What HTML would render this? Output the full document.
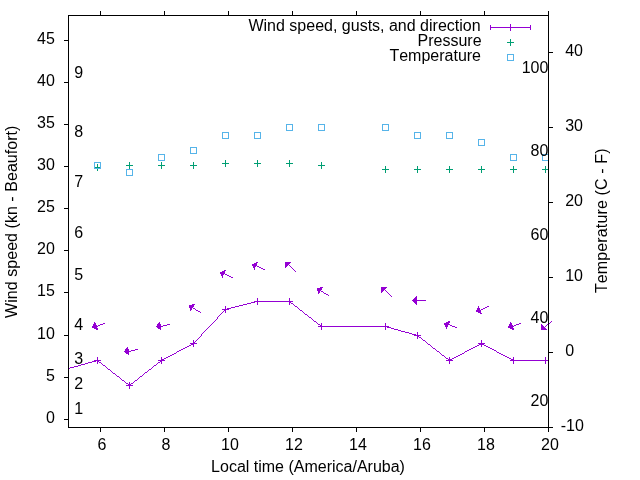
<!DOCTYPE html>
<html><head><meta charset="utf-8"><title>wind</title><style>
html,body{margin:0;padding:0;background:#fff;}
body{width:640px;height:480px;overflow:hidden;position:relative;}
svg{position:absolute;left:0;top:0;display:block;will-change:transform;}
text{font-family:"Liberation Sans",sans-serif;font-size:16px;fill:#000;font-kerning:none;}
</style></head><body>
<svg width="640" height="480" viewBox="0 0 640 480">
<g shape-rendering="crispEdges">
<path fill="#9400d3" d="M510 24h1v1h-1zM490 25h1v1h-1zM510 25h1v1h-1zM530 25h1v1h-1zM490 26h1v1h-1zM510 26h1v1h-1zM530 26h1v1h-1zM490 27h41v1h-41zM490 28h1v1h-1zM510 28h1v1h-1zM530 28h1v1h-1zM490 29h1v1h-1zM510 29h1v1h-1zM530 29h1v1h-1zM510 30h1v1h-1zM256 262h2v1h-2zM285 262h6v1h-6zM254 263h3v1h-3zM285 263h5v1h-5zM252 264h5v1h-5zM285 264h4v1h-4zM252 265h5v1h-5zM285 265h3v1h-3zM289 265h1v1h-1zM253 266h3v1h-3zM257 266h2v1h-2zM285 266h2v1h-2zM290 266h1v1h-1zM253 267h2v1h-2zM259 267h2v1h-2zM285 267h1v1h-1zM291 267h1v1h-1zM254 268h1v1h-1zM261 268h2v1h-2zM292 268h1v1h-1zM254 269h1v1h-1zM263 269h2v1h-2zM293 269h1v1h-1zM224 270h2v1h-2zM294 270h1v1h-1zM222 271h3v1h-3zM295 271h1v1h-1zM220 272h5v1h-5zM220 273h5v1h-5zM221 274h3v1h-3zM225 274h2v1h-2zM221 275h2v1h-2zM227 275h2v1h-2zM222 276h1v1h-1zM229 276h2v1h-2zM222 277h1v1h-1zM231 277h2v1h-2zM320 287h3v1h-3zM381 287h6v1h-6zM317 288h5v1h-5zM381 288h5v1h-5zM317 289h5v1h-5zM381 289h4v1h-4zM317 290h4v1h-4zM381 290h3v1h-3zM385 290h1v1h-1zM318 291h2v1h-2zM321 291h2v1h-2zM381 291h2v1h-2zM386 291h1v1h-1zM318 292h2v1h-2zM323 292h1v1h-1zM381 292h1v1h-1zM387 292h1v1h-1zM318 293h1v1h-1zM324 293h2v1h-2zM388 293h1v1h-1zM326 294h2v1h-2zM389 294h1v1h-1zM328 295h1v1h-1zM390 295h1v1h-1zM391 296h1v1h-1zM416 296h1v1h-1zM415 297h2v1h-2zM257 298h1v1h-1zM289 298h1v1h-1zM414 298h3v1h-3zM257 299h1v1h-1zM289 299h1v1h-1zM413 299h4v1h-4zM257 300h1v1h-1zM289 300h1v1h-1zM412 300h14v1h-14zM254 301h39v1h-39zM413 301h4v1h-4zM251 302h4v1h-4zM257 302h1v1h-1zM289 302h2v1h-2zM414 302h3v1h-3zM247 303h4v1h-4zM257 303h1v1h-1zM289 303h1v1h-1zM291 303h2v1h-2zM415 303h2v1h-2zM192 304h3v1h-3zM243 304h4v1h-4zM257 304h1v1h-1zM289 304h1v1h-1zM293 304h1v1h-1zM416 304h1v1h-1zM189 305h5v1h-5zM239 305h4v1h-4zM294 305h1v1h-1zM189 306h5v1h-5zM225 306h1v1h-1zM235 306h4v1h-4zM295 306h2v1h-2zM478 306h1v1h-1zM487 306h2v1h-2zM189 307h4v1h-4zM225 307h1v1h-1zM231 307h4v1h-4zM297 307h1v1h-1zM478 307h1v1h-1zM485 307h2v1h-2zM190 308h2v1h-2zM193 308h2v1h-2zM225 308h1v1h-1zM227 308h4v1h-4zM298 308h1v1h-1zM477 308h3v1h-3zM483 308h2v1h-2zM190 309h2v1h-2zM195 309h1v1h-1zM222 309h7v1h-7zM299 309h1v1h-1zM477 309h3v1h-3zM481 309h2v1h-2zM190 310h1v1h-1zM196 310h2v1h-2zM224 310h2v1h-2zM300 310h2v1h-2zM476 310h5v1h-5zM198 311h2v1h-2zM223 311h1v1h-1zM225 311h1v1h-1zM302 311h1v1h-1zM476 311h5v1h-5zM200 312h1v1h-1zM222 312h1v1h-1zM225 312h1v1h-1zM303 312h1v1h-1zM478 312h3v1h-3zM221 313h1v1h-1zM304 313h1v1h-1zM480 313h2v1h-2zM220 314h1v1h-1zM305 314h2v1h-2zM219 315h1v1h-1zM307 315h1v1h-1zM218 316h1v1h-1zM308 316h1v1h-1zM217 317h1v1h-1zM309 317h2v1h-2zM217 318h1v1h-1zM311 318h1v1h-1zM216 319h1v1h-1zM312 319h1v1h-1zM215 320h1v1h-1zM313 320h1v1h-1zM214 321h1v1h-1zM314 321h2v1h-2zM448 321h2v1h-2zM551 321h1v1h-1zM94 322h1v1h-1zM159 322h1v1h-1zM213 322h1v1h-1zM316 322h1v1h-1zM446 322h4v1h-4zM510 322h1v1h-1zM550 322h1v1h-1zM94 323h2v1h-2zM103 323h2v1h-2zM158 323h2v1h-2zM212 323h1v1h-1zM317 323h1v1h-1zM321 323h1v1h-1zM385 323h1v1h-1zM444 323h5v1h-5zM510 323h2v1h-2zM519 323h2v1h-2zM549 323h1v1h-1zM93 324h3v1h-3zM100 324h3v1h-3zM157 324h4v1h-4zM167 324h3v1h-3zM211 324h1v1h-1zM318 324h2v1h-2zM321 324h1v1h-1zM385 324h1v1h-1zM444 324h6v1h-6zM509 324h3v1h-3zM516 324h3v1h-3zM541 324h1v1h-1zM547 324h2v1h-2zM93 325h4v1h-4zM98 325h2v1h-2zM157 325h4v1h-4zM163 325h4v1h-4zM210 325h1v1h-1zM320 325h2v1h-2zM385 325h1v1h-1zM445 325h3v1h-3zM450 325h2v1h-2zM509 325h4v1h-4zM514 325h2v1h-2zM541 325h2v1h-2zM546 325h1v1h-1zM92 326h6v1h-6zM156 326h7v1h-7zM209 326h1v1h-1zM318 326h71v1h-71zM445 326h3v1h-3zM452 326h3v1h-3zM508 326h6v1h-6zM541 326h3v1h-3zM545 326h1v1h-1zM92 327h5v1h-5zM157 327h4v1h-4zM208 327h1v1h-1zM321 327h1v1h-1zM385 327h1v1h-1zM387 327h4v1h-4zM446 327h1v1h-1zM455 327h2v1h-2zM508 327h5v1h-5zM541 327h4v1h-4zM94 328h4v1h-4zM158 328h3v1h-3zM207 328h1v1h-1zM321 328h1v1h-1zM385 328h1v1h-1zM391 328h3v1h-3zM446 328h1v1h-1zM510 328h4v1h-4zM541 328h5v1h-5zM96 329h2v1h-2zM160 329h1v1h-1zM206 329h1v1h-1zM321 329h1v1h-1zM385 329h1v1h-1zM394 329h4v1h-4zM512 329h2v1h-2zM541 329h6v1h-6zM205 330h1v1h-1zM398 330h3v1h-3zM204 331h1v1h-1zM401 331h4v1h-4zM203 332h1v1h-1zM405 332h4v1h-4zM417 332h1v1h-1zM202 333h1v1h-1zM409 333h3v1h-3zM417 333h1v1h-1zM201 334h1v1h-1zM412 334h4v1h-4zM417 334h1v1h-1zM201 335h1v1h-1zM414 335h7v1h-7zM200 336h1v1h-1zM417 336h2v1h-2zM199 337h1v1h-1zM417 337h1v1h-1zM419 337h2v1h-2zM198 338h1v1h-1zM417 338h1v1h-1zM421 338h1v1h-1zM197 339h1v1h-1zM422 339h1v1h-1zM193 340h1v1h-1zM196 340h1v1h-1zM423 340h2v1h-2zM481 340h1v1h-1zM193 341h1v1h-1zM195 341h1v1h-1zM425 341h1v1h-1zM481 341h1v1h-1zM193 342h2v1h-2zM426 342h1v1h-1zM481 342h1v1h-1zM190 343h7v1h-7zM427 343h1v1h-1zM478 343h7v1h-7zM191 344h3v1h-3zM428 344h2v1h-2zM479 344h5v1h-5zM189 345h2v1h-2zM193 345h1v1h-1zM430 345h1v1h-1zM477 345h2v1h-2zM481 345h1v1h-1zM484 345h2v1h-2zM187 346h2v1h-2zM193 346h1v1h-1zM431 346h1v1h-1zM475 346h2v1h-2zM481 346h1v1h-1zM486 346h2v1h-2zM127 347h1v1h-1zM185 347h2v1h-2zM432 347h1v1h-1zM473 347h2v1h-2zM488 347h2v1h-2zM126 348h2v1h-2zM183 348h2v1h-2zM433 348h2v1h-2zM471 348h2v1h-2zM490 348h2v1h-2zM125 349h4v1h-4zM135 349h3v1h-3zM181 349h2v1h-2zM435 349h1v1h-1zM469 349h2v1h-2zM492 349h2v1h-2zM125 350h4v1h-4zM131 350h4v1h-4zM179 350h2v1h-2zM436 350h1v1h-1zM467 350h2v1h-2zM494 350h2v1h-2zM124 351h7v1h-7zM177 351h2v1h-2zM437 351h2v1h-2zM465 351h2v1h-2zM496 351h1v1h-1zM125 352h4v1h-4zM176 352h1v1h-1zM439 352h1v1h-1zM464 352h1v1h-1zM497 352h2v1h-2zM126 353h3v1h-3zM174 353h2v1h-2zM440 353h1v1h-1zM462 353h2v1h-2zM499 353h2v1h-2zM128 354h1v1h-1zM172 354h2v1h-2zM441 354h1v1h-1zM460 354h2v1h-2zM501 354h2v1h-2zM170 355h2v1h-2zM442 355h2v1h-2zM458 355h2v1h-2zM503 355h2v1h-2zM168 356h2v1h-2zM444 356h1v1h-1zM456 356h2v1h-2zM505 356h2v1h-2zM97 357h1v1h-1zM161 357h1v1h-1zM166 357h2v1h-2zM445 357h1v1h-1zM449 357h1v1h-1zM454 357h2v1h-2zM507 357h2v1h-2zM513 357h1v1h-1zM545 357h1v1h-1zM97 358h1v1h-1zM161 358h1v1h-1zM164 358h2v1h-2zM446 358h2v1h-2zM449 358h1v1h-1zM452 358h2v1h-2zM509 358h2v1h-2zM513 358h1v1h-1zM545 358h1v1h-1zM97 359h1v1h-1zM161 359h3v1h-3zM448 359h4v1h-4zM511 359h3v1h-3zM545 359h1v1h-1zM94 360h7v1h-7zM158 360h7v1h-7zM446 360h7v1h-7zM510 360h39v1h-39zM92 361h4v1h-4zM97 361h2v1h-2zM160 361h2v1h-2zM449 361h1v1h-1zM513 361h1v1h-1zM545 361h1v1h-1zM88 362h4v1h-4zM97 362h1v1h-1zM99 362h2v1h-2zM158 362h2v1h-2zM161 362h1v1h-1zM449 362h1v1h-1zM513 362h1v1h-1zM545 362h1v1h-1zM85 363h3v1h-3zM97 363h1v1h-1zM101 363h1v1h-1zM157 363h1v1h-1zM161 363h1v1h-1zM449 363h1v1h-1zM513 363h1v1h-1zM545 363h1v1h-1zM81 364h4v1h-4zM102 364h1v1h-1zM156 364h1v1h-1zM78 365h3v1h-3zM103 365h2v1h-2zM154 365h2v1h-2zM74 366h4v1h-4zM105 366h1v1h-1zM153 366h1v1h-1zM70 367h4v1h-4zM106 367h1v1h-1zM152 367h1v1h-1zM68 368h2v1h-2zM107 368h1v1h-1zM151 368h1v1h-1zM108 369h2v1h-2zM149 369h2v1h-2zM110 370h1v1h-1zM148 370h1v1h-1zM111 371h1v1h-1zM147 371h1v1h-1zM112 372h1v1h-1zM145 372h2v1h-2zM113 373h2v1h-2zM144 373h1v1h-1zM115 374h1v1h-1zM143 374h1v1h-1zM116 375h1v1h-1zM142 375h1v1h-1zM117 376h2v1h-2zM140 376h2v1h-2zM119 377h1v1h-1zM139 377h1v1h-1zM120 378h1v1h-1zM138 378h1v1h-1zM121 379h1v1h-1zM137 379h1v1h-1zM122 380h2v1h-2zM135 380h2v1h-2zM124 381h1v1h-1zM134 381h1v1h-1zM125 382h1v1h-1zM129 382h1v1h-1zM133 382h1v1h-1zM126 383h2v1h-2zM129 383h1v1h-1zM131 383h2v1h-2zM128 384h3v1h-3zM126 385h7v1h-7zM129 386h1v1h-1zM129 387h1v1h-1zM129 388h1v1h-1z"/>
<path fill="#009e73" d="M510 39h1v1h-1zM510 40h1v1h-1zM510 41h1v1h-1zM507 42h7v1h-7zM510 43h1v1h-1zM510 44h1v1h-1zM510 45h1v1h-1zM225 160h1v1h-1zM257 160h1v1h-1zM289 160h1v1h-1zM225 161h1v1h-1zM257 161h1v1h-1zM289 161h1v1h-1zM129 162h1v1h-1zM161 162h1v1h-1zM193 162h1v1h-1zM225 162h1v1h-1zM257 162h1v1h-1zM289 162h1v1h-1zM321 162h1v1h-1zM129 163h1v1h-1zM161 163h1v1h-1zM193 163h1v1h-1zM222 163h7v1h-7zM254 163h7v1h-7zM286 163h7v1h-7zM321 163h1v1h-1zM97 164h1v1h-1zM129 164h1v1h-1zM161 164h1v1h-1zM193 164h1v1h-1zM225 164h1v1h-1zM257 164h1v1h-1zM289 164h1v1h-1zM321 164h1v1h-1zM97 165h1v1h-1zM126 165h7v1h-7zM158 165h7v1h-7zM190 165h7v1h-7zM225 165h1v1h-1zM257 165h1v1h-1zM289 165h1v1h-1zM318 165h7v1h-7zM97 166h1v1h-1zM129 166h1v1h-1zM161 166h1v1h-1zM193 166h1v1h-1zM225 166h1v1h-1zM257 166h1v1h-1zM289 166h1v1h-1zM321 166h1v1h-1zM385 166h1v1h-1zM417 166h1v1h-1zM449 166h1v1h-1zM481 166h1v1h-1zM513 166h1v1h-1zM545 166h1v1h-1zM94 167h7v1h-7zM129 167h1v1h-1zM161 167h1v1h-1zM193 167h1v1h-1zM321 167h1v1h-1zM385 167h1v1h-1zM417 167h1v1h-1zM449 167h1v1h-1zM481 167h1v1h-1zM513 167h1v1h-1zM545 167h1v1h-1zM97 168h1v1h-1zM129 168h1v1h-1zM161 168h1v1h-1zM193 168h1v1h-1zM321 168h1v1h-1zM385 168h1v1h-1zM417 168h1v1h-1zM449 168h1v1h-1zM481 168h1v1h-1zM513 168h1v1h-1zM545 168h1v1h-1zM97 169h1v1h-1zM382 169h7v1h-7zM414 169h7v1h-7zM446 169h7v1h-7zM478 169h7v1h-7zM510 169h7v1h-7zM542 169h7v1h-7zM97 170h1v1h-1zM385 170h1v1h-1zM417 170h1v1h-1zM449 170h1v1h-1zM481 170h1v1h-1zM513 170h1v1h-1zM545 170h1v1h-1zM385 171h1v1h-1zM417 171h1v1h-1zM449 171h1v1h-1zM481 171h1v1h-1zM513 171h1v1h-1zM545 171h1v1h-1zM385 172h1v1h-1zM417 172h1v1h-1zM449 172h1v1h-1zM481 172h1v1h-1zM513 172h1v1h-1zM545 172h1v1h-1z"/>
<path fill="#56b4e9" d="M507 54h7v1h-7zM507 55h1v1h-1zM513 55h1v1h-1zM507 56h1v1h-1zM513 56h1v1h-1zM507 57h1v1h-1zM513 57h1v1h-1zM507 58h1v1h-1zM513 58h1v1h-1zM507 59h1v1h-1zM513 59h1v1h-1zM507 60h7v1h-7zM286 124h7v1h-7zM318 124h7v1h-7zM382 124h7v1h-7zM286 125h1v1h-1zM292 125h1v1h-1zM318 125h1v1h-1zM324 125h1v1h-1zM382 125h1v1h-1zM388 125h1v1h-1zM286 126h1v1h-1zM292 126h1v1h-1zM318 126h1v1h-1zM324 126h1v1h-1zM382 126h1v1h-1zM388 126h1v1h-1zM286 127h1v1h-1zM292 127h1v1h-1zM318 127h1v1h-1zM324 127h1v1h-1zM382 127h1v1h-1zM388 127h1v1h-1zM286 128h1v1h-1zM292 128h1v1h-1zM318 128h1v1h-1zM324 128h1v1h-1zM382 128h1v1h-1zM388 128h1v1h-1zM286 129h1v1h-1zM292 129h1v1h-1zM318 129h1v1h-1zM324 129h1v1h-1zM382 129h1v1h-1zM388 129h1v1h-1zM286 130h7v1h-7zM318 130h7v1h-7zM382 130h7v1h-7zM222 132h7v1h-7zM254 132h7v1h-7zM414 132h7v1h-7zM446 132h7v1h-7zM222 133h1v1h-1zM228 133h1v1h-1zM254 133h1v1h-1zM260 133h1v1h-1zM414 133h1v1h-1zM420 133h1v1h-1zM446 133h1v1h-1zM452 133h1v1h-1zM222 134h1v1h-1zM228 134h1v1h-1zM254 134h1v1h-1zM260 134h1v1h-1zM414 134h1v1h-1zM420 134h1v1h-1zM446 134h1v1h-1zM452 134h1v1h-1zM222 135h1v1h-1zM228 135h1v1h-1zM254 135h1v1h-1zM260 135h1v1h-1zM414 135h1v1h-1zM420 135h1v1h-1zM446 135h1v1h-1zM452 135h1v1h-1zM222 136h1v1h-1zM228 136h1v1h-1zM254 136h1v1h-1zM260 136h1v1h-1zM414 136h1v1h-1zM420 136h1v1h-1zM446 136h1v1h-1zM452 136h1v1h-1zM222 137h1v1h-1zM228 137h1v1h-1zM254 137h1v1h-1zM260 137h1v1h-1zM414 137h1v1h-1zM420 137h1v1h-1zM446 137h1v1h-1zM452 137h1v1h-1zM222 138h7v1h-7zM254 138h7v1h-7zM414 138h7v1h-7zM446 138h7v1h-7zM478 139h7v1h-7zM478 140h1v1h-1zM484 140h1v1h-1zM478 141h1v1h-1zM484 141h1v1h-1zM478 142h1v1h-1zM484 142h1v1h-1zM478 143h1v1h-1zM484 143h1v1h-1zM478 144h1v1h-1zM484 144h1v1h-1zM478 145h7v1h-7zM190 147h7v1h-7zM190 148h1v1h-1zM196 148h1v1h-1zM190 149h1v1h-1zM196 149h1v1h-1zM190 150h1v1h-1zM196 150h1v1h-1zM190 151h1v1h-1zM196 151h1v1h-1zM190 152h1v1h-1zM196 152h1v1h-1zM190 153h7v1h-7zM158 154h7v1h-7zM510 154h7v1h-7zM542 154h7v1h-7zM158 155h1v1h-1zM164 155h1v1h-1zM510 155h1v1h-1zM516 155h1v1h-1zM542 155h1v1h-1zM548 155h1v1h-1zM158 156h1v1h-1zM164 156h1v1h-1zM510 156h1v1h-1zM516 156h1v1h-1zM542 156h1v1h-1zM548 156h1v1h-1zM158 157h1v1h-1zM164 157h1v1h-1zM510 157h1v1h-1zM516 157h1v1h-1zM542 157h1v1h-1zM548 157h1v1h-1zM158 158h1v1h-1zM164 158h1v1h-1zM510 158h1v1h-1zM516 158h1v1h-1zM542 158h1v1h-1zM548 158h1v1h-1zM158 159h1v1h-1zM164 159h1v1h-1zM510 159h1v1h-1zM516 159h1v1h-1zM542 159h1v1h-1zM548 159h1v1h-1zM158 160h7v1h-7zM510 160h7v1h-7zM542 160h7v1h-7zM94 162h7v1h-7zM94 163h1v1h-1zM100 163h1v1h-1zM94 164h1v1h-1zM100 164h1v1h-1zM94 165h1v1h-1zM100 165h1v1h-1zM94 166h1v1h-1zM100 166h1v1h-1zM94 167h1v1h-1zM100 167h1v1h-1zM94 168h7v1h-7zM126 169h7v1h-7zM126 170h1v1h-1zM132 170h1v1h-1zM126 171h1v1h-1zM132 171h1v1h-1zM126 172h1v1h-1zM132 172h1v1h-1zM126 173h1v1h-1zM132 173h1v1h-1zM126 174h1v1h-1zM132 174h1v1h-1zM126 175h7v1h-7z"/>
<path fill="#000000" d="M100 11h1v1h-1zM164 11h1v1h-1zM228 11h1v1h-1zM292 11h1v1h-1zM356 11h1v1h-1zM420 11h1v1h-1zM484 11h1v1h-1zM548 11h1v1h-1zM100 12h1v1h-1zM164 12h1v1h-1zM228 12h1v1h-1zM292 12h1v1h-1zM356 12h1v1h-1zM420 12h1v1h-1zM484 12h1v1h-1zM548 12h1v1h-1zM100 13h1v1h-1zM164 13h1v1h-1zM228 13h1v1h-1zM292 13h1v1h-1zM356 13h1v1h-1zM420 13h1v1h-1zM484 13h1v1h-1zM548 13h1v1h-1zM100 14h1v1h-1zM164 14h1v1h-1zM228 14h1v1h-1zM292 14h1v1h-1zM356 14h1v1h-1zM420 14h1v1h-1zM484 14h1v1h-1zM548 14h1v1h-1zM68 15h481v1h-481zM68 16h1v1h-1zM548 16h1v1h-1zM68 17h1v1h-1zM548 17h1v1h-1zM68 18h1v1h-1zM548 18h1v1h-1zM68 19h1v1h-1zM548 19h1v1h-1zM68 20h1v1h-1zM548 20h1v1h-1zM68 21h1v1h-1zM548 21h1v1h-1zM68 22h1v1h-1zM548 22h1v1h-1zM68 23h1v1h-1zM548 23h1v1h-1zM68 24h1v1h-1zM548 24h1v1h-1zM68 25h1v1h-1zM548 25h1v1h-1zM68 26h1v1h-1zM548 26h1v1h-1zM68 27h1v1h-1zM548 27h1v1h-1zM68 28h1v1h-1zM548 28h1v1h-1zM68 29h1v1h-1zM548 29h1v1h-1zM68 30h1v1h-1zM548 30h1v1h-1zM68 31h1v1h-1zM548 31h1v1h-1zM68 32h1v1h-1zM548 32h1v1h-1zM68 33h1v1h-1zM548 33h1v1h-1zM68 34h1v1h-1zM548 34h1v1h-1zM68 35h1v1h-1zM548 35h1v1h-1zM68 36h1v1h-1zM548 36h1v1h-1zM68 37h1v1h-1zM548 37h1v1h-1zM68 38h1v1h-1zM548 38h1v1h-1zM68 39h1v1h-1zM548 39h1v1h-1zM64 40h5v1h-5zM548 40h1v1h-1zM68 41h1v1h-1zM548 41h1v1h-1zM68 42h1v1h-1zM548 42h1v1h-1zM68 43h1v1h-1zM548 43h1v1h-1zM68 44h1v1h-1zM548 44h1v1h-1zM68 45h1v1h-1zM548 45h1v1h-1zM68 46h1v1h-1zM548 46h1v1h-1zM68 47h1v1h-1zM548 47h1v1h-1zM68 48h1v1h-1zM548 48h1v1h-1zM68 49h1v1h-1zM548 49h1v1h-1zM68 50h1v1h-1zM548 50h1v1h-1zM68 51h1v1h-1zM548 51h1v1h-1zM68 52h1v1h-1zM548 52h5v1h-5zM68 53h1v1h-1zM548 53h1v1h-1zM68 54h1v1h-1zM548 54h1v1h-1zM68 55h1v1h-1zM548 55h1v1h-1zM68 56h1v1h-1zM548 56h1v1h-1zM68 57h1v1h-1zM548 57h1v1h-1zM68 58h1v1h-1zM548 58h1v1h-1zM68 59h1v1h-1zM548 59h1v1h-1zM68 60h1v1h-1zM548 60h1v1h-1zM68 61h1v1h-1zM548 61h1v1h-1zM68 62h1v1h-1zM548 62h1v1h-1zM68 63h1v1h-1zM548 63h1v1h-1zM68 64h1v1h-1zM548 64h1v1h-1zM68 65h1v1h-1zM548 65h1v1h-1zM68 66h1v1h-1zM548 66h1v1h-1zM68 67h1v1h-1zM548 67h1v1h-1zM68 68h1v1h-1zM548 68h1v1h-1zM68 69h1v1h-1zM548 69h1v1h-1zM68 70h1v1h-1zM548 70h1v1h-1zM68 71h1v1h-1zM548 71h1v1h-1zM68 72h1v1h-1zM548 72h1v1h-1zM68 73h1v1h-1zM548 73h1v1h-1zM68 74h1v1h-1zM548 74h1v1h-1zM68 75h1v1h-1zM548 75h1v1h-1zM68 76h1v1h-1zM548 76h1v1h-1zM68 77h1v1h-1zM548 77h1v1h-1zM68 78h1v1h-1zM548 78h1v1h-1zM68 79h1v1h-1zM548 79h1v1h-1zM68 80h1v1h-1zM548 80h1v1h-1zM68 81h1v1h-1zM548 81h1v1h-1zM64 82h5v1h-5zM548 82h1v1h-1zM68 83h1v1h-1zM548 83h1v1h-1zM68 84h1v1h-1zM548 84h1v1h-1zM68 85h1v1h-1zM548 85h1v1h-1zM68 86h1v1h-1zM548 86h1v1h-1zM68 87h1v1h-1zM548 87h1v1h-1zM68 88h1v1h-1zM548 88h1v1h-1zM68 89h1v1h-1zM548 89h1v1h-1zM68 90h1v1h-1zM548 90h1v1h-1zM68 91h1v1h-1zM548 91h1v1h-1zM68 92h1v1h-1zM548 92h1v1h-1zM68 93h1v1h-1zM548 93h1v1h-1zM68 94h1v1h-1zM548 94h1v1h-1zM68 95h1v1h-1zM548 95h1v1h-1zM68 96h1v1h-1zM548 96h1v1h-1zM68 97h1v1h-1zM548 97h1v1h-1zM68 98h1v1h-1zM548 98h1v1h-1zM68 99h1v1h-1zM548 99h1v1h-1zM68 100h1v1h-1zM548 100h1v1h-1zM68 101h1v1h-1zM548 101h1v1h-1zM68 102h1v1h-1zM548 102h1v1h-1zM68 103h1v1h-1zM548 103h1v1h-1zM68 104h1v1h-1zM548 104h1v1h-1zM68 105h1v1h-1zM548 105h1v1h-1zM68 106h1v1h-1zM548 106h1v1h-1zM68 107h1v1h-1zM548 107h1v1h-1zM68 108h1v1h-1zM548 108h1v1h-1zM68 109h1v1h-1zM548 109h1v1h-1zM68 110h1v1h-1zM548 110h1v1h-1zM68 111h1v1h-1zM548 111h1v1h-1zM68 112h1v1h-1zM548 112h1v1h-1zM68 113h1v1h-1zM548 113h1v1h-1zM68 114h1v1h-1zM548 114h1v1h-1zM68 115h1v1h-1zM548 115h1v1h-1zM68 116h1v1h-1zM548 116h1v1h-1zM68 117h1v1h-1zM548 117h1v1h-1zM68 118h1v1h-1zM548 118h1v1h-1zM68 119h1v1h-1zM548 119h1v1h-1zM68 120h1v1h-1zM548 120h1v1h-1zM68 121h1v1h-1zM548 121h1v1h-1zM68 122h1v1h-1zM548 122h1v1h-1zM68 123h1v1h-1zM548 123h1v1h-1zM64 124h5v1h-5zM548 124h1v1h-1zM68 125h1v1h-1zM548 125h1v1h-1zM68 126h1v1h-1zM548 126h1v1h-1zM68 127h1v1h-1zM548 127h5v1h-5zM68 128h1v1h-1zM548 128h1v1h-1zM68 129h1v1h-1zM548 129h1v1h-1zM68 130h1v1h-1zM548 130h1v1h-1zM68 131h1v1h-1zM548 131h1v1h-1zM68 132h1v1h-1zM548 132h1v1h-1zM68 133h1v1h-1zM548 133h1v1h-1zM68 134h1v1h-1zM548 134h1v1h-1zM68 135h1v1h-1zM548 135h1v1h-1zM68 136h1v1h-1zM548 136h1v1h-1zM68 137h1v1h-1zM548 137h1v1h-1zM68 138h1v1h-1zM548 138h1v1h-1zM68 139h1v1h-1zM548 139h1v1h-1zM68 140h1v1h-1zM548 140h1v1h-1zM68 141h1v1h-1zM548 141h1v1h-1zM68 142h1v1h-1zM548 142h1v1h-1zM68 143h1v1h-1zM548 143h1v1h-1zM68 144h1v1h-1zM548 144h1v1h-1zM68 145h1v1h-1zM548 145h1v1h-1zM68 146h1v1h-1zM548 146h1v1h-1zM68 147h1v1h-1zM548 147h1v1h-1zM68 148h1v1h-1zM548 148h1v1h-1zM68 149h1v1h-1zM548 149h1v1h-1zM68 150h1v1h-1zM548 150h1v1h-1zM68 151h1v1h-1zM548 151h1v1h-1zM68 152h1v1h-1zM548 152h1v1h-1zM68 153h1v1h-1zM548 153h1v1h-1zM68 154h1v1h-1zM548 154h1v1h-1zM68 155h1v1h-1zM548 155h1v1h-1zM68 156h1v1h-1zM548 156h1v1h-1zM68 157h1v1h-1zM548 157h1v1h-1zM68 158h1v1h-1zM548 158h1v1h-1zM68 159h1v1h-1zM548 159h1v1h-1zM68 160h1v1h-1zM548 160h1v1h-1zM68 161h1v1h-1zM548 161h1v1h-1zM68 162h1v1h-1zM548 162h1v1h-1zM68 163h1v1h-1zM548 163h1v1h-1zM68 164h1v1h-1zM548 164h1v1h-1zM68 165h1v1h-1zM548 165h1v1h-1zM64 166h5v1h-5zM548 166h1v1h-1zM68 167h1v1h-1zM548 167h1v1h-1zM68 168h1v1h-1zM548 168h1v1h-1zM68 169h1v1h-1zM548 169h1v1h-1zM68 170h1v1h-1zM548 170h1v1h-1zM68 171h1v1h-1zM548 171h1v1h-1zM68 172h1v1h-1zM548 172h1v1h-1zM68 173h1v1h-1zM548 173h1v1h-1zM68 174h1v1h-1zM548 174h1v1h-1zM68 175h1v1h-1zM548 175h1v1h-1zM68 176h1v1h-1zM548 176h1v1h-1zM68 177h1v1h-1zM548 177h1v1h-1zM68 178h1v1h-1zM548 178h1v1h-1zM68 179h1v1h-1zM548 179h1v1h-1zM68 180h1v1h-1zM548 180h1v1h-1zM68 181h1v1h-1zM548 181h1v1h-1zM68 182h1v1h-1zM548 182h1v1h-1zM68 183h1v1h-1zM548 183h1v1h-1zM68 184h1v1h-1zM548 184h1v1h-1zM68 185h1v1h-1zM548 185h1v1h-1zM68 186h1v1h-1zM548 186h1v1h-1zM68 187h1v1h-1zM548 187h1v1h-1zM68 188h1v1h-1zM548 188h1v1h-1zM68 189h1v1h-1zM548 189h1v1h-1zM68 190h1v1h-1zM548 190h1v1h-1zM68 191h1v1h-1zM548 191h1v1h-1zM68 192h1v1h-1zM548 192h1v1h-1zM68 193h1v1h-1zM548 193h1v1h-1zM68 194h1v1h-1zM548 194h1v1h-1zM68 195h1v1h-1zM548 195h1v1h-1zM68 196h1v1h-1zM548 196h1v1h-1zM68 197h1v1h-1zM548 197h1v1h-1zM68 198h1v1h-1zM548 198h1v1h-1zM68 199h1v1h-1zM548 199h1v1h-1zM68 200h1v1h-1zM548 200h1v1h-1zM68 201h1v1h-1zM548 201h1v1h-1zM68 202h1v1h-1zM548 202h5v1h-5zM68 203h1v1h-1zM548 203h1v1h-1zM68 204h1v1h-1zM548 204h1v1h-1zM68 205h1v1h-1zM548 205h1v1h-1zM68 206h1v1h-1zM548 206h1v1h-1zM68 207h1v1h-1zM548 207h1v1h-1zM64 208h5v1h-5zM548 208h1v1h-1zM68 209h1v1h-1zM548 209h1v1h-1zM68 210h1v1h-1zM548 210h1v1h-1zM68 211h1v1h-1zM548 211h1v1h-1zM68 212h1v1h-1zM548 212h1v1h-1zM68 213h1v1h-1zM548 213h1v1h-1zM68 214h1v1h-1zM548 214h1v1h-1zM68 215h1v1h-1zM548 215h1v1h-1zM68 216h1v1h-1zM548 216h1v1h-1zM68 217h1v1h-1zM548 217h1v1h-1zM68 218h1v1h-1zM548 218h1v1h-1zM68 219h1v1h-1zM548 219h1v1h-1zM68 220h1v1h-1zM548 220h1v1h-1zM68 221h1v1h-1zM548 221h1v1h-1zM68 222h1v1h-1zM548 222h1v1h-1zM68 223h1v1h-1zM548 223h1v1h-1zM68 224h1v1h-1zM548 224h1v1h-1zM68 225h1v1h-1zM548 225h1v1h-1zM68 226h1v1h-1zM548 226h1v1h-1zM68 227h1v1h-1zM548 227h1v1h-1zM68 228h1v1h-1zM548 228h1v1h-1zM68 229h1v1h-1zM548 229h1v1h-1zM68 230h1v1h-1zM548 230h1v1h-1zM68 231h1v1h-1zM548 231h1v1h-1zM68 232h1v1h-1zM548 232h1v1h-1zM68 233h1v1h-1zM548 233h1v1h-1zM68 234h1v1h-1zM548 234h1v1h-1zM68 235h1v1h-1zM548 235h1v1h-1zM68 236h1v1h-1zM548 236h1v1h-1zM68 237h1v1h-1zM548 237h1v1h-1zM68 238h1v1h-1zM548 238h1v1h-1zM68 239h1v1h-1zM548 239h1v1h-1zM68 240h1v1h-1zM548 240h1v1h-1zM68 241h1v1h-1zM548 241h1v1h-1zM68 242h1v1h-1zM548 242h1v1h-1zM68 243h1v1h-1zM548 243h1v1h-1zM68 244h1v1h-1zM548 244h1v1h-1zM68 245h1v1h-1zM548 245h1v1h-1zM68 246h1v1h-1zM548 246h1v1h-1zM68 247h1v1h-1zM548 247h1v1h-1zM68 248h1v1h-1zM548 248h1v1h-1zM68 249h1v1h-1zM548 249h1v1h-1zM64 250h5v1h-5zM548 250h1v1h-1zM68 251h1v1h-1zM548 251h1v1h-1zM68 252h1v1h-1zM548 252h1v1h-1zM68 253h1v1h-1zM548 253h1v1h-1zM68 254h1v1h-1zM548 254h1v1h-1zM68 255h1v1h-1zM548 255h1v1h-1zM68 256h1v1h-1zM548 256h1v1h-1zM68 257h1v1h-1zM548 257h1v1h-1zM68 258h1v1h-1zM548 258h1v1h-1zM68 259h1v1h-1zM548 259h1v1h-1zM68 260h1v1h-1zM548 260h1v1h-1zM68 261h1v1h-1zM548 261h1v1h-1zM68 262h1v1h-1zM548 262h1v1h-1zM68 263h1v1h-1zM548 263h1v1h-1zM68 264h1v1h-1zM548 264h1v1h-1zM68 265h1v1h-1zM548 265h1v1h-1zM68 266h1v1h-1zM548 266h1v1h-1zM68 267h1v1h-1zM548 267h1v1h-1zM68 268h1v1h-1zM548 268h1v1h-1zM68 269h1v1h-1zM548 269h1v1h-1zM68 270h1v1h-1zM548 270h1v1h-1zM68 271h1v1h-1zM548 271h1v1h-1zM68 272h1v1h-1zM548 272h1v1h-1zM68 273h1v1h-1zM548 273h1v1h-1zM68 274h1v1h-1zM548 274h1v1h-1zM68 275h1v1h-1zM548 275h1v1h-1zM68 276h1v1h-1zM548 276h1v1h-1zM68 277h1v1h-1zM548 277h5v1h-5zM68 278h1v1h-1zM548 278h1v1h-1zM68 279h1v1h-1zM548 279h1v1h-1zM68 280h1v1h-1zM548 280h1v1h-1zM68 281h1v1h-1zM548 281h1v1h-1zM68 282h1v1h-1zM548 282h1v1h-1zM68 283h1v1h-1zM548 283h1v1h-1zM68 284h1v1h-1zM548 284h1v1h-1zM68 285h1v1h-1zM548 285h1v1h-1zM68 286h1v1h-1zM548 286h1v1h-1zM68 287h1v1h-1zM548 287h1v1h-1zM68 288h1v1h-1zM548 288h1v1h-1zM68 289h1v1h-1zM548 289h1v1h-1zM68 290h1v1h-1zM548 290h1v1h-1zM68 291h1v1h-1zM548 291h1v1h-1zM64 292h5v1h-5zM548 292h1v1h-1zM68 293h1v1h-1zM548 293h1v1h-1zM68 294h1v1h-1zM548 294h1v1h-1zM68 295h1v1h-1zM548 295h1v1h-1zM68 296h1v1h-1zM548 296h1v1h-1zM68 297h1v1h-1zM548 297h1v1h-1zM68 298h1v1h-1zM548 298h1v1h-1zM68 299h1v1h-1zM548 299h1v1h-1zM68 300h1v1h-1zM548 300h1v1h-1zM68 301h1v1h-1zM548 301h1v1h-1zM68 302h1v1h-1zM548 302h1v1h-1zM68 303h1v1h-1zM548 303h1v1h-1zM68 304h1v1h-1zM548 304h1v1h-1zM68 305h1v1h-1zM548 305h1v1h-1zM68 306h1v1h-1zM548 306h1v1h-1zM68 307h1v1h-1zM548 307h1v1h-1zM68 308h1v1h-1zM548 308h1v1h-1zM68 309h1v1h-1zM548 309h1v1h-1zM68 310h1v1h-1zM548 310h1v1h-1zM68 311h1v1h-1zM548 311h1v1h-1zM68 312h1v1h-1zM548 312h1v1h-1zM68 313h1v1h-1zM548 313h1v1h-1zM68 314h1v1h-1zM548 314h1v1h-1zM68 315h1v1h-1zM548 315h1v1h-1zM68 316h1v1h-1zM548 316h1v1h-1zM68 317h1v1h-1zM548 317h1v1h-1zM68 318h1v1h-1zM548 318h1v1h-1zM68 319h1v1h-1zM548 319h1v1h-1zM68 320h1v1h-1zM548 320h1v1h-1zM68 321h1v1h-1zM548 321h1v1h-1zM68 322h1v1h-1zM548 322h1v1h-1zM68 323h1v1h-1zM548 323h1v1h-1zM68 324h1v1h-1zM548 324h1v1h-1zM68 325h1v1h-1zM548 325h1v1h-1zM68 326h1v1h-1zM548 326h1v1h-1zM68 327h1v1h-1zM548 327h1v1h-1zM68 328h1v1h-1zM548 328h1v1h-1zM68 329h1v1h-1zM548 329h1v1h-1zM68 330h1v1h-1zM548 330h1v1h-1zM68 331h1v1h-1zM548 331h1v1h-1zM68 332h1v1h-1zM548 332h1v1h-1zM68 333h1v1h-1zM548 333h1v1h-1zM68 334h1v1h-1zM548 334h1v1h-1zM64 335h5v1h-5zM548 335h1v1h-1zM68 336h1v1h-1zM548 336h1v1h-1zM68 337h1v1h-1zM548 337h1v1h-1zM68 338h1v1h-1zM548 338h1v1h-1zM68 339h1v1h-1zM548 339h1v1h-1zM68 340h1v1h-1zM548 340h1v1h-1zM68 341h1v1h-1zM548 341h1v1h-1zM68 342h1v1h-1zM548 342h1v1h-1zM68 343h1v1h-1zM548 343h1v1h-1zM68 344h1v1h-1zM548 344h1v1h-1zM68 345h1v1h-1zM548 345h1v1h-1zM68 346h1v1h-1zM548 346h1v1h-1zM68 347h1v1h-1zM548 347h1v1h-1zM68 348h1v1h-1zM548 348h1v1h-1zM68 349h1v1h-1zM548 349h1v1h-1zM68 350h1v1h-1zM548 350h1v1h-1zM68 351h1v1h-1zM548 351h1v1h-1zM68 352h1v1h-1zM548 352h5v1h-5zM68 353h1v1h-1zM548 353h1v1h-1zM68 354h1v1h-1zM548 354h1v1h-1zM68 355h1v1h-1zM548 355h1v1h-1zM68 356h1v1h-1zM548 356h1v1h-1zM68 357h1v1h-1zM548 357h1v1h-1zM68 358h1v1h-1zM548 358h1v1h-1zM68 359h1v1h-1zM548 359h1v1h-1zM68 360h1v1h-1zM548 360h1v1h-1zM68 361h1v1h-1zM548 361h1v1h-1zM68 362h1v1h-1zM548 362h1v1h-1zM68 363h1v1h-1zM548 363h1v1h-1zM68 364h1v1h-1zM548 364h1v1h-1zM68 365h1v1h-1zM548 365h1v1h-1zM68 366h1v1h-1zM548 366h1v1h-1zM68 367h1v1h-1zM548 367h1v1h-1zM68 368h1v1h-1zM548 368h1v1h-1zM68 369h1v1h-1zM548 369h1v1h-1zM68 370h1v1h-1zM548 370h1v1h-1zM68 371h1v1h-1zM548 371h1v1h-1zM68 372h1v1h-1zM548 372h1v1h-1zM68 373h1v1h-1zM548 373h1v1h-1zM68 374h1v1h-1zM548 374h1v1h-1zM68 375h1v1h-1zM548 375h1v1h-1zM68 376h1v1h-1zM548 376h1v1h-1zM64 377h5v1h-5zM548 377h1v1h-1zM68 378h1v1h-1zM548 378h1v1h-1zM68 379h1v1h-1zM548 379h1v1h-1zM68 380h1v1h-1zM548 380h1v1h-1zM68 381h1v1h-1zM548 381h1v1h-1zM68 382h1v1h-1zM548 382h1v1h-1zM68 383h1v1h-1zM548 383h1v1h-1zM68 384h1v1h-1zM548 384h1v1h-1zM68 385h1v1h-1zM548 385h1v1h-1zM68 386h1v1h-1zM548 386h1v1h-1zM68 387h1v1h-1zM548 387h1v1h-1zM68 388h1v1h-1zM548 388h1v1h-1zM68 389h1v1h-1zM548 389h1v1h-1zM68 390h1v1h-1zM548 390h1v1h-1zM68 391h1v1h-1zM548 391h1v1h-1zM68 392h1v1h-1zM548 392h1v1h-1zM68 393h1v1h-1zM548 393h1v1h-1zM68 394h1v1h-1zM548 394h1v1h-1zM68 395h1v1h-1zM548 395h1v1h-1zM68 396h1v1h-1zM548 396h1v1h-1zM68 397h1v1h-1zM548 397h1v1h-1zM68 398h1v1h-1zM548 398h1v1h-1zM68 399h1v1h-1zM548 399h1v1h-1zM68 400h1v1h-1zM548 400h1v1h-1zM68 401h1v1h-1zM548 401h1v1h-1zM68 402h1v1h-1zM548 402h1v1h-1zM68 403h1v1h-1zM548 403h1v1h-1zM68 404h1v1h-1zM548 404h1v1h-1zM68 405h1v1h-1zM548 405h1v1h-1zM68 406h1v1h-1zM548 406h1v1h-1zM68 407h1v1h-1zM548 407h1v1h-1zM68 408h1v1h-1zM548 408h1v1h-1zM68 409h1v1h-1zM548 409h1v1h-1zM68 410h1v1h-1zM548 410h1v1h-1zM68 411h1v1h-1zM548 411h1v1h-1zM68 412h1v1h-1zM548 412h1v1h-1zM68 413h1v1h-1zM548 413h1v1h-1zM68 414h1v1h-1zM548 414h1v1h-1zM68 415h1v1h-1zM548 415h1v1h-1zM68 416h1v1h-1zM548 416h1v1h-1zM68 417h1v1h-1zM548 417h1v1h-1zM68 418h1v1h-1zM548 418h1v1h-1zM64 419h5v1h-5zM548 419h1v1h-1zM68 420h1v1h-1zM548 420h1v1h-1zM68 421h1v1h-1zM548 421h1v1h-1zM68 422h1v1h-1zM548 422h1v1h-1zM68 423h1v1h-1zM548 423h1v1h-1zM68 424h1v1h-1zM548 424h1v1h-1zM68 425h1v1h-1zM548 425h1v1h-1zM68 426h1v1h-1zM548 426h1v1h-1zM68 427h485v1h-485zM100 428h1v1h-1zM164 428h1v1h-1zM228 428h1v1h-1zM292 428h1v1h-1zM356 428h1v1h-1zM420 428h1v1h-1zM484 428h1v1h-1zM548 428h1v1h-1zM100 429h1v1h-1zM164 429h1v1h-1zM228 429h1v1h-1zM292 429h1v1h-1zM356 429h1v1h-1zM420 429h1v1h-1zM484 429h1v1h-1zM548 429h1v1h-1zM100 430h1v1h-1zM164 430h1v1h-1zM228 430h1v1h-1zM292 430h1v1h-1zM356 430h1v1h-1zM420 430h1v1h-1zM484 430h1v1h-1zM548 430h1v1h-1zM100 431h1v1h-1zM164 431h1v1h-1zM228 431h1v1h-1zM292 431h1v1h-1zM356 431h1v1h-1zM420 431h1v1h-1zM484 431h1v1h-1zM548 431h1v1h-1z"/>
</g>
<g>
<text x="54.9" y="423.0" text-anchor="end">0</text>
<text x="54.9" y="381.0" text-anchor="end">5</text>
<text x="54.9" y="339.0" text-anchor="end">10</text>
<text x="54.9" y="296.0" text-anchor="end">15</text>
<text x="54.9" y="254.0" text-anchor="end">20</text>
<text x="54.9" y="212.0" text-anchor="end">25</text>
<text x="54.9" y="170.0" text-anchor="end">30</text>
<text x="54.9" y="128.0" text-anchor="end">35</text>
<text x="54.9" y="86.0" text-anchor="end">40</text>
<text x="54.9" y="44.0" text-anchor="end">45</text>
<text x="101.9" y="449.8" text-anchor="middle">6</text>
<text x="165.9" y="449.8" text-anchor="middle">8</text>
<text x="229.9" y="449.8" text-anchor="middle">10</text>
<text x="293.9" y="449.8" text-anchor="middle">12</text>
<text x="357.9" y="449.8" text-anchor="middle">14</text>
<text x="421.9" y="449.8" text-anchor="middle">16</text>
<text x="485.9" y="449.8" text-anchor="middle">18</text>
<text x="549.9" y="449.8" text-anchor="middle">20</text>
<text x="560.7" y="431.0" text-anchor="start">-10</text>
<text x="565.2" y="356.0" text-anchor="start">0</text>
<text x="565.2" y="281.0" text-anchor="start">10</text>
<text x="565.2" y="206.0" text-anchor="start">20</text>
<text x="565.2" y="131.0" text-anchor="start">30</text>
<text x="565.2" y="56.0" text-anchor="start">40</text>
<text x="74.2" y="413.8" text-anchor="start">1</text>
<text x="74.2" y="388.8" text-anchor="start">2</text>
<text x="74.2" y="363.8" text-anchor="start">3</text>
<text x="74.2" y="329.8" text-anchor="start">4</text>
<text x="74.2" y="279.8" text-anchor="start">5</text>
<text x="74.2" y="237.8" text-anchor="start">6</text>
<text x="74.2" y="186.8" text-anchor="start">7</text>
<text x="74.2" y="136.8" text-anchor="start">8</text>
<text x="74.2" y="77.8" text-anchor="start">9</text>
<text x="548.4" y="405.8" text-anchor="end">20</text>
<text x="548.4" y="322.8" text-anchor="end">40</text>
<text x="548.4" y="239.8" text-anchor="end">60</text>
<text x="548.4" y="155.8" text-anchor="end">80</text>
<text x="548.4" y="72.8" text-anchor="end">100</text>
<text x="480.6" y="30.7" text-anchor="end">Wind speed, gusts, and direction</text>
<text x="481.6" y="45.7" text-anchor="end">Pressure</text>
<text x="481.0" y="60.6" text-anchor="end">Temperature</text>
<text x="308.0" y="471.7" text-anchor="middle">Local time (America/Aruba)</text>
<text transform="translate(16.7 317.9) rotate(-90)" textLength="192.3" lengthAdjust="spacing">Wind speed (kn - Beaufort)</text>
<text transform="translate(606.8 293.1) rotate(-90)" textLength="144.7" lengthAdjust="spacing">Temperature (C - F)</text>
</g>
</svg>
</body></html>
